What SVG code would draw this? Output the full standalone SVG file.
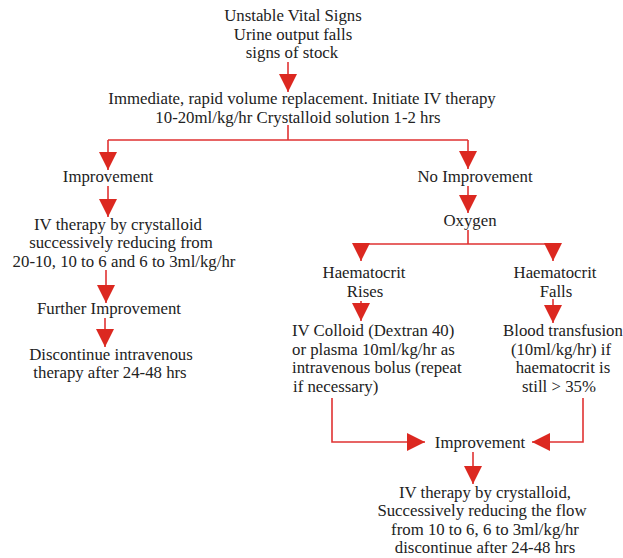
<svg xmlns="http://www.w3.org/2000/svg" width="623" height="558" viewBox="0 0 623 558">
<style>
text{font-family:"Liberation Serif","Times New Roman",serif;font-size:16.8px;fill:#222;text-anchor:middle}
.l{text-anchor:start}
.c{fill:none;stroke:#e03232;stroke-width:1.6}
</style>
<defs>
<marker id="ah" markerUnits="userSpaceOnUse" markerWidth="20" markerHeight="20" viewBox="0 0 20 20" refX="18" refY="9" orient="auto">
<path d="M0,0 L18,9 L0,18 Z" fill="#dc2820"/>
</marker>
</defs>
<rect width="623" height="558" fill="#fff"/>
<g id="connectors">
<path class="c" d="M288,62 V92" marker-end="url(#ah)"/>
<path class="c" d="M288,125 V140 M108,140 H468"/>
<path class="c" d="M108,140 V170" marker-end="url(#ah)"/>
<path class="c" d="M468,140 V169" marker-end="url(#ah)"/>
<path class="c" d="M108,186 V217" marker-end="url(#ah)"/>
<path class="c" d="M468,186 V213" marker-end="url(#ah)"/>
<path class="c" d="M106,270 V303" marker-end="url(#ah)"/>
<path class="c" d="M105,318 V347" marker-end="url(#ah)"/>
<path class="c" d="M468,230 V244 M361,244 H553"/>
<path class="c" d="M361,244 V261" marker-end="url(#ah)"/>
<path class="c" d="M553,244 V261" marker-end="url(#ah)"/>
<path class="c" d="M361,301 V321" marker-end="url(#ah)"/>
<path class="c" d="M553,299 V323" marker-end="url(#ah)"/>
<path class="c" d="M332,398 V442 H425" marker-end="url(#ah)"/>
<path class="c" d="M583,398 V442 H532" marker-end="url(#ah)"/>
<path class="c" d="M473,452 V484" marker-end="url(#ah)"/>
</g>
<g id="start">
<text x="293" y="21">Unstable Vital Signs</text>
<text x="293" y="40">Urine output falls</text>
<text x="292" y="58">signs of stock</text>
</g>
<g id="replacement">
<text x="302" y="104">Immediate, rapid volume replacement. Initiate IV therapy</text>
<text x="298" y="123">10-20ml/kg/hr Crystalloid solution 1-2 hrs</text>
</g>
<g id="improvement1"><text x="108" y="182">Improvement</text></g>
<g id="ivtherapy1">
<text x="118" y="230">IV therapy by crystalloid</text>
<text x="121" y="248">successively reducing from</text>
<text x="124" y="267">20-10, 10 to 6 and 6 to 3ml/kg/hr</text>
</g>
<g id="further"><text x="109" y="314">Further Improvement</text></g>
<g id="discontinue">
<text x="111" y="360">Discontinue intravenous</text>
<text x="110" y="378">therapy after 24-48 hrs</text>
</g>
<g id="noimprovement"><text x="475" y="182">No Improvement</text></g>
<g id="oxygen"><text x="470" y="226">Oxygen</text></g>
<g id="rises">
<text x="364" y="278">Haematocrit</text>
<text x="365" y="297">Rises</text>
</g>
<g id="falls">
<text x="555" y="278">Haematocrit</text>
<text x="556" y="297">Falls</text>
</g>
<g id="colloid">
<text class="l" x="292" y="336">IV Colloid (Dextran 40)</text>
<text class="l" x="292" y="355">or plasma 10ml/kg/hr as</text>
<text class="l" x="292" y="373">intravenous bolus (repeat</text>
<text class="l" x="293" y="392">if necessary)</text>
</g>
<g id="transfusion">
<text x="563" y="336">Blood transfusion</text>
<text x="561" y="355">(10ml/kg/hr) if</text>
<text x="563" y="373">haematocrit is</text>
<text x="559" y="392">still &gt; 35%</text>
</g>
<g id="improvement2"><text x="480" y="448">Improvement</text></g>
<g id="ivtherapy2">
<text x="485" y="498">IV therapy by crystalloid,</text>
<text x="482" y="516">Successively reducing the flow</text>
<text x="485" y="535">from 10 to 6, 6 to 3ml/kg/hr</text>
<text x="485" y="553">discontinue after 24-48 hrs</text>
</g>
</svg>
